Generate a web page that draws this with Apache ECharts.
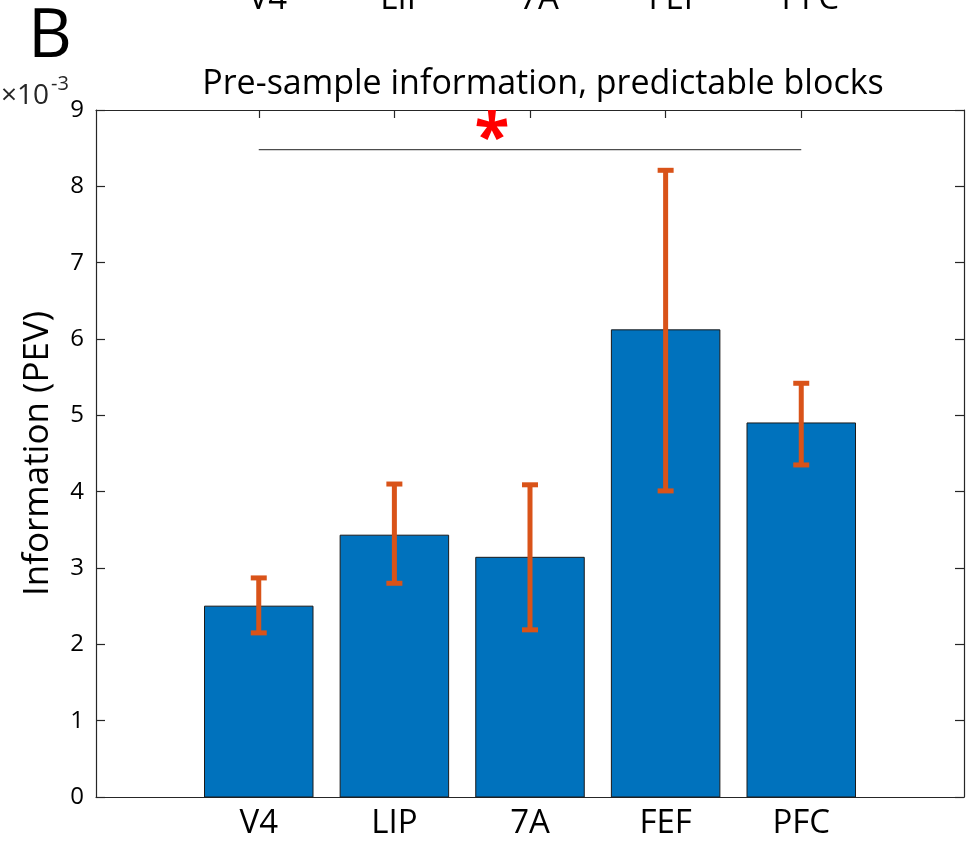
<!DOCTYPE html>
<html><head><meta charset="utf-8">
<script src="https://cdn.jsdelivr.net/npm/echarts@6/dist/echarts.min.js"></script>
<style>html,body{margin:0;padding:0;background:#fff}#c{width:978px;height:845px}</style>
</head><body><div id="c"></div>
<script>
const categories = ['V4', 'LIP', '7A', 'FEF', 'PFC'];
const positions = [1, 2, 3, 4, 5];
const means = [2.50, 3.43, 3.14, 6.12, 4.90];
const errLow = [2.15, 2.80, 2.19, 4.01, 4.35];
const errHigh = [2.87, 4.10, 4.09, 8.21, 5.42];
const yTicks = [0, 1, 2, 3, 4, 5, 6, 7, 8, 9];
const sigFrom = 1, sigTo = 5, sigY = 8.48;
const starX = 2.72, starY = 8.72;

const FONT = 'Open Sans';
const AX = '#262626';
const chart = echarts.init(document.getElementById('c'), null, {renderer: 'canvas'});

const barData = positions.map((p, i) => [p, means[i]]);
const errData = positions.map((p, i) => [p, errLow[i], errHigh[i]]);

const option = {
  animation: false,
  backgroundColor: '#fff',
  grid: {left: 96, right: 14, top: 110, bottom: 48, containLabel: false},
  xAxis: [{
    type: 'value', min: -0.2, max: 6.2, position: 'bottom',
    splitLine: {show: false},
    axisLine: {show: true, onZero: false, lineStyle: {color: AX, width: 1.2}},
    axisTick: {show: true, inside: true, length: 8, customValues: positions, lineStyle: {color: AX, width: 1.2}},
    axisLabel: {show: true, customValues: positions, margin: 10, fontFamily: FONT, fontSize: 33, color: '#000',
      formatter: v => categories[positions.indexOf(Math.round(v))] || ''}
  }, {
    type: 'value', min: -0.2, max: 6.2, position: 'top',
    splitLine: {show: false},
    axisLine: {show: true, onZero: false, lineStyle: {color: AX, width: 1.2}},
    axisTick: {show: true, inside: true, length: 8, customValues: positions, lineStyle: {color: AX, width: 1.2}},
    axisLabel: {show: false}
  }],
  yAxis: [{
    type: 'value', min: 0, max: 9, interval: 1, position: 'left',
    name: 'Information (PEV)', nameLocation: 'middle', nameGap: 40,
    nameTextStyle: {fontFamily: FONT, fontSize: 35, color: '#000'},
    splitLine: {show: false},
    axisLine: {show: true, onZero: false, lineStyle: {color: AX, width: 1.2}},
    axisTick: {show: true, inside: true, length: 9, lineStyle: {color: AX, width: 1.2}},
    axisLabel: {margin: 12, fontFamily: FONT, fontSize: 24, color: '#000'}
  }, {
    type: 'value', min: 0, max: 9, interval: 1, position: 'right',
    splitLine: {show: false},
    axisLine: {show: true, onZero: false, lineStyle: {color: AX, width: 1.2}},
    axisTick: {show: true, inside: true, length: 9, lineStyle: {color: AX, width: 1.2}},
    axisLabel: {show: false}
  }],
  series: [{
    type: 'custom', xAxisIndex: 0, yAxisIndex: 0, data: barData, z: 2,
    renderItem: (params, api) => {
      const x = api.value(0), v = api.value(1);
      const p0 = api.coord([x - 0.4, v]);
      const p1 = api.coord([x + 0.4, 0]);
      return {type: 'rect', shape: {x: p0[0], y: p0[1], width: p1[0] - p0[0], height: p1[1] - p0[1]},
        style: {fill: '#0072BD', stroke: '#1a1a1a', lineWidth: 1}};
    }
  }, {
    type: 'custom', xAxisIndex: 0, yAxisIndex: 0, data: errData, z: 3,
    renderItem: (params, api) => {
      const x = api.value(0);
      const lo = api.coord([x, api.value(1)]);
      const hi = api.coord([x, api.value(2)]);
      const st = {stroke: '#D95319', lineWidth: 5};
      const cw = 8;
      return {type: 'group', children: [
        {type: 'line', shape: {x1: lo[0], y1: lo[1], x2: hi[0], y2: hi[1]}, style: st},
        {type: 'line', shape: {x1: lo[0] - cw, y1: lo[1], x2: lo[0] + cw, y2: lo[1]}, style: st},
        {type: 'line', shape: {x1: hi[0] - cw, y1: hi[1], x2: hi[0] + cw, y2: hi[1]}, style: st}
      ]};
    }
  }, {
    type: 'custom', xAxisIndex: 0, yAxisIndex: 0, data: [[sigFrom, sigTo, sigY, starX, starY]], z: 4,
    renderItem: (params, api) => {
      const a = api.coord([api.value(0), api.value(2)]);
      const b = api.coord([api.value(1), api.value(2)]);
      const s = api.coord([api.value(3), api.value(4)]);
      return {type: 'group', children: [
        {type: 'line', shape: {x1: a[0], y1: a[1], x2: b[0], y2: b[1]}, style: {stroke: '#4d4d4d', lineWidth: 1.2}},
        {type: 'text', x: s[0], y: s[1] + 9, style: {text: '*', fontFamily: FONT, fontSize: 64, fontWeight: 'bold', fill: '#FF0000', align: 'center', verticalAlign: 'middle'}}
      ]};
    }
  }],
  graphic: [
    {type: 'text', left: 28, top: 4, style: {text: 'B', fontFamily: FONT, fontSize: 68, fill: '#000'}},
    {type: 'text', x: 543, y: 84, style: {text: 'Pre-sample information, predictable blocks', fontFamily: FONT, fontSize: 34, fill: '#000', align: 'center', verticalAlign: 'middle'}},
    {type: 'text', x: 1, y: 96, style: {text: '×10', fontFamily: FONT, fontSize: 28, fill: '#262626', verticalAlign: 'middle'}},
    {type: 'text', x: 51, y: 84, style: {text: '-3', fontFamily: FONT, fontSize: 20, fill: '#262626', verticalAlign: 'middle'}}
  ]
};
chart.setOption(option);

// cut-off labels of the panel above (shifted, partially out of view)
const topLabels = categories.map((c, i) => {
  const px = chart.convertToPixel({xAxisIndex: 0}, positions[i]);
  return {type: 'text', x: px + 9, y: 0, style: {text: c, fontFamily: FONT, fontSize: 33, fill: '#000', align: 'center', verticalAlign: 'middle'}};
});
chart.setOption({graphic: option.graphic.concat(topLabels)});
</script></body></html>
